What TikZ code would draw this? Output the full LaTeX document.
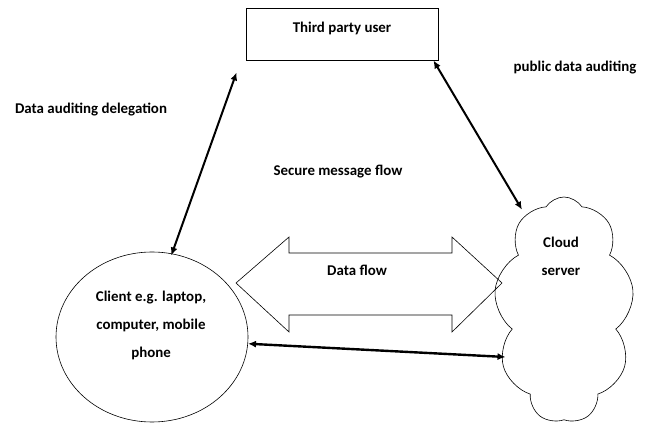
\documentclass[tikz,border=0pt]{standalone}
\usepackage{fontspec}
\setmainfont{Carlito}
\usepackage{tikz}
\usetikzlibrary{arrows.meta,shapes.symbols,shapes.geometric,calc}
\tikzset{
  boxline/.style={draw=black, line width=0.9pt},
  thinline/.style={draw=black, line width=0.6pt},
  biarrow/.style={draw=black, line width=2pt, {Latex[length=8pt,width=7pt]}-{Latex[length=8pt,width=7pt]}},
  lab/.style={text=black, font=\fontsize{14.9}{28}\selectfont\bfseries, inner sep=0pt, align=center},
}

\begin{document}
\begin{tikzpicture}[x=1pt, y=1pt]
  \useasboundingbox (0,0) rectangle (648,423);
  % parties
  \node[boxline, rectangle, minimum width=192pt, minimum height=52pt] (tpu) at (342,389) {};
  \node[lab] (tpulab) at ([yshift=6pt]tpu.center) {Third party user};
  \node[thinline, ellipse, minimum width=192pt, minimum height=170pt, inner sep=0pt] (client) at (152,86) {};
  \node[lab] (clientlab) at (151,98) {Client e.g. laptop,\\computer, mobile\\phone};
  \node[thinline, cloud, cloud puffs=9, cloud puff arc=115, cloud ignores aspect,
        minimum width=140pt, minimum height=226pt, inner sep=0pt] (cloud) at (564,113) {};
  \node[lab] (cloudlab) at (561,167) {Cloud\\server};
  % block arrow for the data flow
  \draw[thinline] (236,140) -- (289,186) -- (289,170) -- (452,170) -- (452,186) -- (502,140)
    -- (452,91) -- (452,108) -- (289,108) -- (289,91) -- cycle;
  \node[lab] (dataflow) at (357,153) {Data flow};
  % texts
  \node[lab] (deleg) at (91,313) {Data auditing delegation};
  \node[lab] (pubaud) at (575,355) {public data auditing};
  \node[lab] (secmsg) at (338,251) {Secure message flow};
  % connectors
  \draw[biarrow] ([shift={(0,-2)}]client.77) -- ([shift={(-9,-12)}]tpu.south west);
  \draw[biarrow] ([xshift=-5pt]tpu.south east) -- ([shift={(-42,-13)}]cloud.north);
  \draw[biarrow, line width=2.4pt] (client.-4) -- ([shift={(8,-47)}]cloud.west);
\end{tikzpicture}
\end{document}
